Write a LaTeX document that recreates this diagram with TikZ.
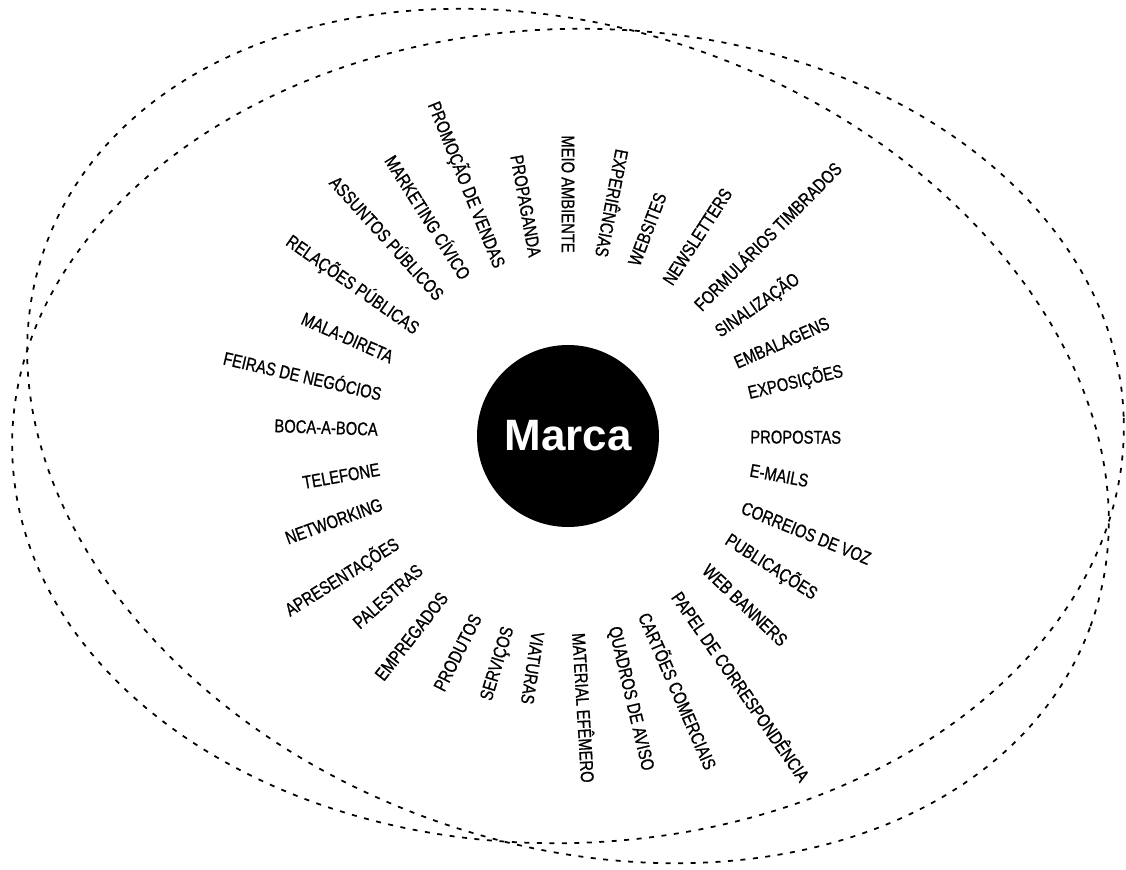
\documentclass[tikz,border=0pt]{standalone}
\usepackage{fontspec}
\setmainfont{Liberation Sans}
\newfontfamily\narrowfont[FakeStretch=0.8, FakeBold=0.8]{Liberation Sans}
\usepackage{tikz}
\tikzstyle{lbl}=[anchor=east, inner sep=0pt, font=\narrowfont\fontsize{10.5}{12}\selectfont]
\tikzstyle{rbl}=[anchor=west, inner sep=0pt, font=\narrowfont\fontsize{10.5}{12}\selectfont]
\tikzstyle{orbit}=[line width=1pt, dash pattern=on 0.1cm off 0.15cm]

\begin{document}
\begin{tikzpicture}
  %\draw [help lines, step=1] (-11,-8) grid (11,8);
  \useasboundingbox (-11.36,-8.66) rectangle (11.16,8.72);

  \draw[orbit, rotate=-20] (0,0) ellipse (11.12 and 8.14);
  \draw[orbit, rotate=2] (0,0) ellipse (11.12 and 8.14);

  \node[circle, fill=black, minimum size=3.64cm, inner sep=0pt, text=white, font=\bfseries\fontsize{25}{30}\selectfont] (marca) at (0,0) {Marca};

  \node[lbl, rotate=-90] (l1) at (90:3.66) {MEIO AMBIENTE};
  \node[lbl, rotate=-101] (l2) at (79:3.64) {EXPERIÊNCIAS};
  \node[lbl, rotate=-79.6] (l3) at (100.4:3.64) {PROPAGANDA};
  \node[lbl, rotate=-68] (l4) at (112:3.64) {PROMOÇÃO DE VENDAS};
  \node[lbl, rotate=-57.6] (l5) at (122.4:3.76) {MARKETING CÍVICO};
  \node[lbl, rotate=-47.8] (l6) at (132.2:3.76) {ASSUNTOS PÚBLICOS};
  \node[lbl, rotate=-35.1] (l7) at (144.9:3.68) {RELAÇÕES PÚBLICAS};
  \node[lbl, rotate=-24] (l8) at (156:3.84) {MALA-DIRETA};
  \node[lbl, rotate=-13] (l9) at (167:3.82) {FEIRAS DE NEGÓCIOS};
  \node[lbl, rotate=-2] (l10) at (178:3.80) {BOCA-A-BOCA};
  \node[lbl, rotate=10] (l11) at (190:3.82) {TELEFONE};
  \node[lbl, rotate=20] (l12) at (200:3.96) {NETWORKING};
  \node[lbl, rotate=32] (l13) at (212:4.02) {APRESENTAÇÕES};
  \node[lbl, rotate=41.7] (l14) at (221.7:3.96) {PALESTRAS};
  \node[lbl, rotate=52] (l15) at (232:4.02) {EMPREGADOS};
  \node[lbl, rotate=63] (l16) at (243:4.02) {PRODUTOS};
  \node[lbl, rotate=73] (l17) at (253:4.00) {SERVIÇOS};

  \node[rbl, rotate=-98.7] (r1) at (-98.7:3.96) {VIATURAS};
  \node[rbl, rotate=-86.5] (r2) at (-86.5:3.94) {MATERIAL EFÊMERO};
  \node[rbl, rotate=-76.7] (r3) at (-76.7:3.92) {QUADROS DE AVISO};
  \node[rbl, rotate=-66.5] (r4) at (-66.5:3.86) {CARTÕES COMERCIAIS};
  \node[rbl, rotate=-55.2] (r5) at (-55.2:3.82) {PAPEL DE CORRESPONDÊNCIA};
  \node[rbl, rotate=-43.7] (r6) at (-43.7:3.80) {WEB BANNERS};
  \node[rbl, rotate=-32.7] (r7) at (-32.7:3.78) {PUBLICAÇÕES};
  \node[rbl, rotate=-22.2] (r8) at (-22.2:3.76) {CORREIOS DE VOZ};
  \node[rbl, rotate=-10.6] (r9) at (-10.6:3.70) {E-MAILS};
  \node[rbl, rotate=-0.3] (r10) at (-0.3:3.64) {PROPOSTAS};
  \node[rbl, rotate=13.4] (r11) at (13.4:3.70) {EXPOSIÇÕES};
  \node[rbl, rotate=23.6] (r12) at (23.6:3.64) {EMBALAGENS};
  \node[rbl, rotate=34.7] (r13) at (34.7:3.62) {SINALIZAÇÃO};
  \node[rbl, rotate=45.2] (r14) at (45.2:3.64) {FORMULÁRIOS TIMBRADOS};
  \node[rbl, rotate=57] (r15) at (57:3.64) {NEWSLETTERS};
  \node[rbl, rotate=69] (r16) at (69:3.66) {WEBSITES};

\end{tikzpicture}
\end{document}
